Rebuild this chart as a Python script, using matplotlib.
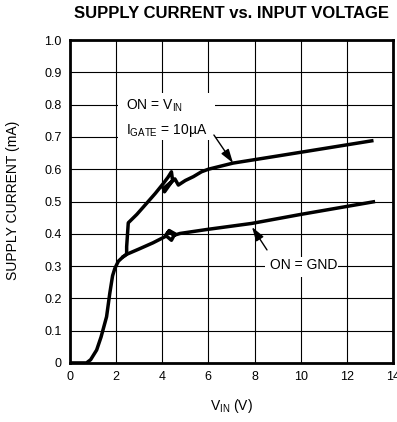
import matplotlib
matplotlib.use("Agg")
import matplotlib.pyplot as plt
from matplotlib.patches import Rectangle

plt.rcParams['font.family'] = ['Liberation Sans', 'DejaVu Sans']
plt.rcParams['mathtext.fontset'] = 'custom'
plt.rcParams['mathtext.rm'] = 'Liberation Sans'
plt.rcParams['mathtext.it'] = 'Liberation Sans'

# ON = VIN, IGATE = 10uA
vin_on = [0.0, 0.72, 0.9, 1.16, 1.35, 1.59, 1.73, 1.85, 1.95, 2.1, 2.31, 2.46, 2.46, 2.53,
          2.9, 3.32, 3.7, 4.05, 4.25, 4.4, 4.45, 4.3, 4.1, 4.05, 4.3, 4.55, 4.7, 5.0,
          5.35, 5.7, 6.0, 7.07, 9.0, 11.0, 13.08]
isup_on = [0.0, 0.0, 0.01, 0.04, 0.08, 0.143, 0.216, 0.27, 0.293, 0.315, 0.329, 0.337, 0.36, 0.434,
           0.46, 0.494, 0.525, 0.556, 0.575, 0.592, 0.565, 0.55, 0.53, 0.54, 0.555, 0.57, 0.551, 0.565,
           0.577, 0.592, 0.6, 0.619, 0.641, 0.664, 0.688]

# ON = GND
vin_gnd = [2.31, 2.48, 3.0, 3.6, 4.12, 4.3, 4.55, 4.4, 4.15, 4.3, 4.5, 4.77, 6.0, 7.87, 10.0, 13.15]
isup_gnd = [0.329, 0.337, 0.353, 0.372, 0.391, 0.41, 0.4, 0.38, 0.395, 0.408, 0.395, 0.401, 0.414,
            0.432, 0.46, 0.499]

xticks = [0, 2, 4, 6, 8, 10, 12, 14]
yticks = [0, 0.1, 0.2, 0.3, 0.4, 0.5, 0.6, 0.7, 0.8, 0.9, 1.0]
ytick_labels = ['0', '0.1', '0.2', '0.3', '0.4', '0.5', '0.6', '0.7', '0.8', '0.9', '1.0']

fig = plt.figure(figsize=(3.97, 4.22), dpi=100)
ax = fig.add_axes([0.176, 0.140, 0.814, 0.765])

ax.plot(vin_on, isup_on, color='black', lw=2.5, solid_joinstyle='round', zorder=3)
ax.plot(vin_gnd, isup_gnd, color='black', lw=2.5, solid_joinstyle='round', zorder=3)

ax.set_xlim(0, 14)
ax.set_ylim(0, 1.0)
ax.set_xticks(xticks)
ax.set_yticks(yticks)
ax.set_yticklabels(ytick_labels)
ax.grid(True, color='black', lw=0.8)
ax.set_axisbelow(True)
ax.tick_params(length=0, labelsize=9, pad=6)
for s in ax.spines.values():
    s.set_linewidth(2.0)

# white panels behind the curve labels, hiding the grid
ax.add_patch(Rectangle((2.08, 0.69), 4.2, 0.146, facecolor='white', edgecolor='none', zorder=1.5))
ax.add_patch(Rectangle((8.45, 0.266), 3.15, 0.062, facecolor='white', edgecolor='none', zorder=1.5))

ax.text(2.45, 0.797, 'ON = V$_{\\mathregular{IN}}$', fontsize=10, ha='left', va='center', zorder=2)
ax.text(2.45, 0.721, 'I$_{\\mathregular{GATE}}$ = 10\u00b5A', fontsize=10, ha='left', va='center',
        zorder=2)
ax.text(8.67, 0.303, 'ON = GND', fontsize=10, ha='left', va='center', zorder=2)

arrow = dict(arrowstyle='-|>,head_length=0.7,head_width=0.22', color='black', lw=1.0,
             mutation_scale=12, shrinkA=0, shrinkB=0)
ax.annotate('', xy=(7.07, 0.619), xytext=(6.24, 0.706), arrowprops=arrow, zorder=4)
ax.annotate('', xy=(7.89, 0.421), xytext=(8.54, 0.35), arrowprops=arrow, zorder=4)

ax.set_xlabel('V$_{\\mathregular{IN}}$ (V)', fontsize=10, labelpad=10)
ax.set_ylabel('SUPPLY CURRENT (mA)', fontsize=10)
ax.yaxis.set_label_coords(-0.155, 0.505)
fig.text(0.584, 0.969, 'SUPPLY CURRENT vs. INPUT VOLTAGE', fontsize=12, fontweight='bold',
         ha='center', va='center')

fig.savefig('out.png', dpi=100)
